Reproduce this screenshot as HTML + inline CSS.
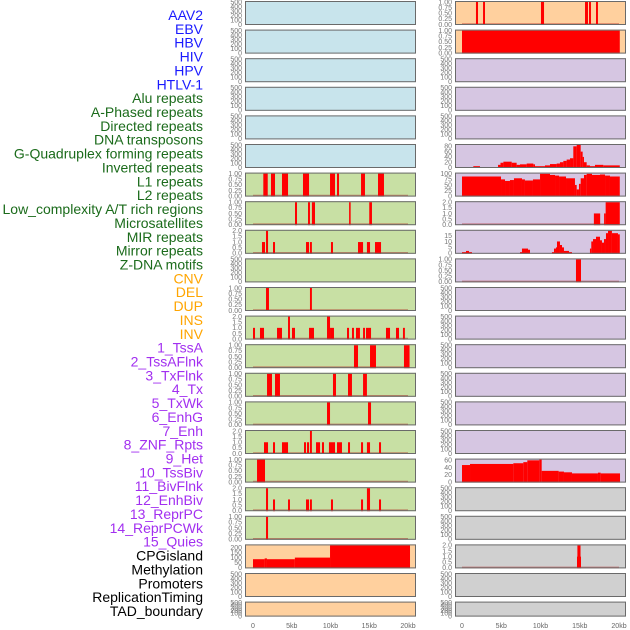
<!DOCTYPE html>
<html><head><meta charset="utf-8"><style>
html,body{margin:0;padding:0;background:#fff;}
svg{display:block;}
.lab{font-family:"Liberation Sans",sans-serif;font-size:14px;}
.tk{font-family:"Liberation Sans",sans-serif;font-size:7px;fill:#777;}
.ax{font-family:"Liberation Sans",sans-serif;font-size:7px;fill:#666;}
</style></head><body>
<svg id="chart" width="630" height="630" viewBox="0 0 630 630" xmlns="http://www.w3.org/2000/svg"></svg>
<script>
const trackLabels = ["AAV2","EBV","HBV","HIV","HPV","HTLV-1","Alu repeats","A-Phased repeats","Directed repeats","DNA transposons","G-Quadruplex forming repeats","Inverted repeats","L1 repeats","L2 repeats","Low_complexity A/T rich regions","Microsatellites","MIR repeats","Mirror repeats","Z-DNA motifs","CNV","DEL","DUP","INS","INV","1_TssA","2_TssAFlnk","3_TxFlnk","4_Tx","5_TxWk","6_EnhG","7_Enh","8_ZNF_Rpts","9_Het","10_TssBiv","11_BivFlnk","12_EnhBiv","13_ReprPC","14_ReprPCWk","15_Quies","CPGisland","Methylation","Promoters","ReplicationTiming","TAD_boundary"];
const labelGroups = [6,13,5,15,5];
const groupColors = ["#1a1aff","#1b6b1b","#ffa500","#a22ff0","#000000"];
const xTickLabels = ["0","5kb","10kb","15kb","20kb"];
const xTickValues = [0,5,10,15,20];

const leftAlu = [[1.33,1.9,1],[2.32,2.84,1],[3.74,4.52,1],[6.45,7.23,1],[9.94,10.58,1],[10.84,11.1,1],[13.94,14.45,1],[16.13,16.9,1]];
const leftAPhased = [[5.42,5.68,1],[7.1,7.35,1],[7.6,8.0,1],[12.4,12.6,1],[15.0,15.35,1]];
const leftDirected = [[1.16,1.55,1],[1.68,1.94,2],[2.58,2.84,1],[6.84,7.23,1],[7.35,7.6,1],[10.06,10.32,1],[13.55,14.2,1],[14.7,15.1,1],[15.74,16.52,1]];
const leftGQuad = [[1.68,2.06,1],[7.35,7.6,1]];
const leftInverted = [[0,0.26,1],[0.9,1.42,1],[3.1,3.74,1],[4.52,4.77,2],[5.03,5.42,1],[7.23,7.87,1],[9.55,9.94,2],[9.94,10.45,1],[12.13,12.39,1],[12.77,13.03,1],[13.29,13.8,1],[14.2,14.45,1],[14.58,15.23,1],[17.16,17.68,1],[18.45,18.84,1],[19.35,19.6,1]];
const leftL1 = [[13.03,13.55,1],[15.1,15.87,1],[19.48,20.2,1]];
const leftL2 = [[1.81,2.45,1],[2.84,3.48,1],[10.32,10.71,1],[12.26,12.77,1],[14.2,14.7,1]];
const leftLowComplexity = [[9.55,9.94,1],[14.84,15.23,1]];
const leftMicrosat = [[1.42,1.94,1],[2.58,2.84,1],[3.74,4.52,1],[6.58,6.84,1],[6.97,7.23,1],[7.35,7.6,2],[8.13,8.65,1],[8.9,9.16,1],[9.8,10.58,1],[10.84,11.48,1],[12.26,12.52,1],[13.94,14.2,1],[14.7,15.1,1],[16.26,16.52,1]];
const leftMIR = [[0.52,1.55,1]];
const leftMirror = [[1.68,1.94,2],[2.58,2.84,1],[4.52,4.77,1],[6.84,7.23,1],[7.35,7.6,1],[10.06,10.32,1],[13.94,14.2,1],[14.7,15.1,2],[16.26,16.52,1]];
const leftZDNA = [[1.68,1.94,1]];
const leftCNV = [[0,1.5,87],[1.5,1.8,95],[1.8,5.4,87],[5.4,9.94,103],[9.94,20.26,225]];
const rightAAV = [[1.78,2.04,1],[2.68,2.93,1],[10.06,10.45,1],[15.67,16.05,1],[16.18,16.43,1],[17.07,17.32,1]];
const rightEBV = [[0,20.1,1]];
const rightRow5 = [[0,1.44,1.5],[1.44,2.29,5],[2.29,4.59,1],[4.59,4.9,10],[4.9,5.27,18],[5.27,6.33,22],[6.33,6.96,18],[6.96,7.39,10],[7.39,8.24,12],[8.24,9.09,15],[9.09,9.3,12],[9.3,10.57,5],[10.57,11.21,8],[11.21,12.06,13],[12.06,12.48,15],[12.48,12.91,20],[12.91,13.33,25],[13.33,13.76,30],[13.76,14.18,35],[14.18,14.61,80],[14.61,15.12,85],[15.12,15.37,60],[15.37,15.54,40],[15.54,15.88,20],[15.88,16.3,8],[16.3,16.94,5],[16.94,18.0,10],[18.0,20.1,8]];
const rightRow6 = [[0,4.97,88],[4.97,5.48,75],[5.48,6.11,68],[6.11,6.62,72],[6.62,7.64,80],[7.64,8.02,75],[8.02,9.04,70],[9.04,9.94,75],[9.94,11.21,100],[11.21,11.85,95],[11.85,12.36,92],[12.36,13.25,88],[13.25,14.39,80],[14.39,14.61,50],[14.61,14.9,30],[14.9,15.12,55],[15.12,15.54,80],[15.54,15.88,95],[15.88,16.56,100],[16.56,17.58,95],[17.58,18.22,97],[18.22,18.85,92],[18.85,20.1,88]];
const rightRow7 = [[16.8,17.6,1],[18.1,18.3,1],[18.3,20.1,2]];
const rightRow8 = [[0,0.51,1],[0.51,0.89,2],[0.89,1.27,1],[7.39,7.64,1],[7.64,8.41,4],[8.41,8.66,3],[11.46,11.72,1],[11.72,11.97,4],[11.97,12.1,5],[12.1,12.48,10],[12.48,12.74,7],[12.74,12.99,5],[12.99,13.63,2],[13.63,14.01,1],[16.3,16.47,4],[16.47,16.69,10],[16.69,17.07,12],[17.07,17.58,14],[17.58,17.83,11],[17.83,18.09,9],[18.09,18.34,12],[18.34,18.6,17],[18.6,19.1,19],[19.1,19.87,17],[19.87,20.1,16]];
const rightRow9 = [[14.52,15.16,1]];
const rightRow16 = [[0,1.02,47],[1.02,6.54,50],[6.54,7.81,52],[7.81,8.32,55],[8.32,9.85,60],[9.85,10.15,62],[10.15,12.31,31],[12.31,12.99,29],[12.99,14.01,27],[14.01,17.32,24],[17.32,17.66,26],[17.66,20.13,24]];
const rightRow19 = [[14.65,15.16,1],[14.7,15.1,2]];

const tBin = ["0.00","0.25","0.50","0.75","1.00"], vBin=[0,0.25,0.5,0.75,1];
const tTwo = ["0.0","0.5","1.0","1.5","2.0"], vTwo=[0,0.5,1,1.5,2];
const tEmpty = ["0","100","200","300","400","500"], vEmpty=[0,100,200,300,400,500];

const BL="#c8e4ec",GR="#c8e0a4",PE="#ffd09e",LV="#d6c6e2",GY="#d0d0d0";
const panels=[];
for(let r=0;r<6;r++) panels.push(["L",r,BL,null,500,tEmpty,vEmpty]);
const leftGreen=[leftAlu,leftAPhased,leftDirected,null,leftGQuad,leftInverted,leftL1,leftL2,leftLowComplexity,leftMicrosat,leftMIR,leftMirror,leftZDNA];
const leftGreenMax=[1,1,2,0,1,2,1,1,1,2,1,2,1];
leftGreen.forEach((d,i)=>{const m=leftGreenMax[i];
 if(!d) panels.push(["L",6+i,GR,null,500,tEmpty,vEmpty]);
 else panels.push(["L",6+i,GR,d,m,m===1?tBin:tTwo,m===1?vBin:vTwo]);});
panels.push(["L",19,PE,leftCNV,225,["0","50","100","150","200"],[0,50,100,150,200]]);
panels.push(["L",20,PE,null,500,tEmpty,vEmpty]);
panels.push(["L",21,PE,null,500,tEmpty,vEmpty]);
panels.push(["R",0,PE,rightAAV,1,tBin,vBin]);
panels.push(["R",1,PE,rightEBV,1,tBin,vBin]);
for(let r=2;r<=16;r++){
 let p=["R",r,LV,null,500,tEmpty,vEmpty];
 if(r===5)p=["R",r,LV,rightRow5,85,["0","20","40","60","80"],[0,20,40,60,80]];
 if(r===6)p=["R",r,LV,rightRow6,101,["0","25","50","75","100"],[0,25,50,75,100]];
 if(r===7)p=["R",r,LV,rightRow7,2,tTwo,vTwo];
 if(r===8)p=["R",r,LV,rightRow8,19,["0","5","10","15"],[0,5,10,15]];
 if(r===9)p=["R",r,LV,rightRow9,1,tBin,vBin];
 if(r===16)p=["R",r,LV,rightRow16,62,["0","20","40","60"],[0,20,40,60]];
 panels.push(p);
}
for(let r=17;r<=21;r++){
 if(r===19) panels.push(["R",r,GY,rightRow19,2,tTwo,vTwo]);
 else panels.push(["R",r,GY,null,500,tEmpty,vEmpty]);
}

const NS="http://www.w3.org/2000/svg";
const svg=document.getElementById("chart");
function mk(tag,attrs,parent){const e=document.createElementNS(NS,tag);for(const k in attrs)e.setAttribute(k,attrs[k]);(parent||svg).appendChild(e);return e;}
const side={L:{x:245,w:171,x0:253,x20:408},R:{x:455,w:171,x0:462,x20:619}};
function xScale(s,kb){const S=side[s];return S.x0+(S.x20-S.x0)*kb/20;}
function rowTop(r){return 1+r*28.6;}
function rowH(r){return r===21?15:24;}

let k=0;
labelGroups.forEach((n,g)=>{for(let i=0;i<n;i++){
 const t=mk("text",{x:203,y:(15+k*13.86+5).toFixed(1),"text-anchor":"end",class:"lab",fill:groupColors[g]});
 t.textContent=trackLabels[k];
 
 
 k++;}});

panels.forEach(p=>{
 const [s,r,bg,data,ymax,tl,tv]=p;
 const S=side[s],top=rowTop(r),h=rowH(r),bot=top+h;
 const g=mk("g",{});
 
 
 mk("rect",{x:S.x,y:top,width:S.w,height:h,fill:bg},g);
 const yS=v=>bot-0.5-(h-1.5)*v/ymax;
 tl.forEach((lab,i)=>{
  const t=mk("text",{x:s==="L"?242:452,y:(yS(tv[i])+2.3).toFixed(1),"text-anchor":"end",class:"tk"},g);
  t.textContent=lab;
  
  
 });
 if(data){
  if(ymax<=2) mk("line",{x1:xScale(s,0),x2:xScale(s,20),y1:bot-1,y2:bot-1,stroke:"rgba(170,20,20,0.45)","stroke-width":1.6},g);
  data.forEach(d=>{
   const x1=xScale(s,d[0]),x2=xScale(s,d[1]),y=yS(d[2]);
   const b=mk("rect",{x:x1.toFixed(2),y:y.toFixed(2),width:Math.max(1.2,x2-x1).toFixed(2),height:(bot-y).toFixed(2),fill:"#ff0000"},g);
   
   
  });
 }
 mk("rect",{x:S.x+0.5,y:top+0.5,width:S.w-1,height:h-1,fill:"none",stroke:"#6a6a6a","stroke-width":1},g);
});

["L","R"].forEach(s=>{xTickValues.forEach((v,i)=>{
 const t=mk("text",{x:xScale(s,v),y:628,"text-anchor":"middle",class:"ax"});
 t.textContent=xTickLabels[i];
 
 
});});
</script>
</body></html>
